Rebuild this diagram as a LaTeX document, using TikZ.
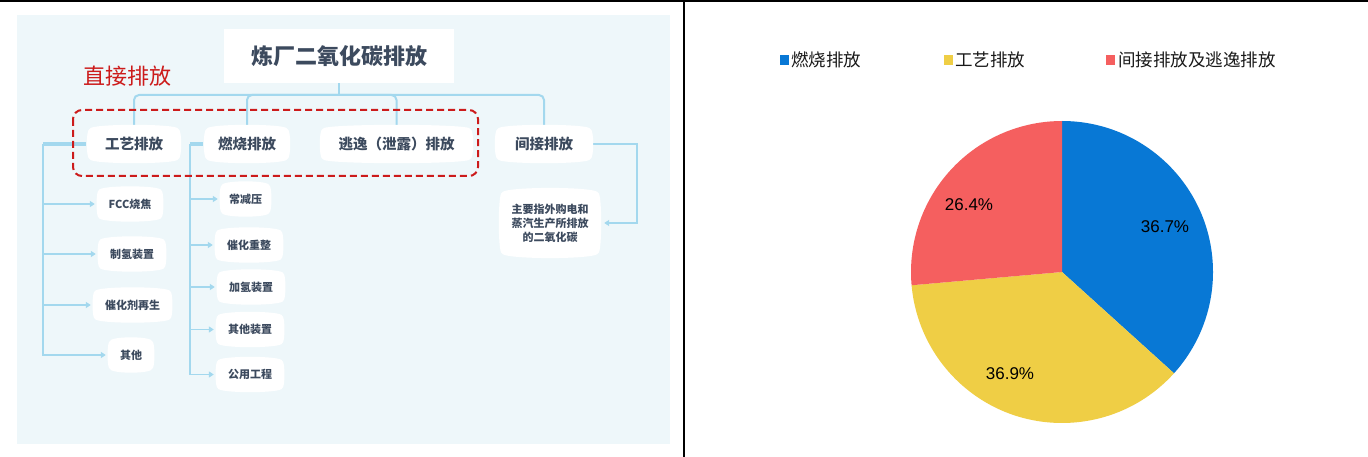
\documentclass[tikz,border=0pt]{standalone}
\usepackage{fontspec}
\setmainfont{Liberation Sans}
\newfontfamily\cjk{Noto Sans CJK SC}
\usetikzlibrary{arrows.meta}
\pgfdeclarelayer{back}\pgfdeclarelayer{lines}\pgfdeclarelayer{blobs}
\pgfsetlayers{back,lines,blobs,main}
\definecolor{bgblue}{HTML}{EEF7FA}
\definecolor{conn}{HTML}{A3D8EE}
\definecolor{ink}{HTML}{3C4A5E}
\definecolor{redbox}{HTML}{CC1B1B}
\definecolor{pieblue}{HTML}{0878D5}
\definecolor{pieyellow}{HTML}{EFCE45}
\definecolor{piered}{HTML}{F55F5F}
\newcommand\blobfill[3]{% name, vertical bulge, side bulge
  \fill[white] (#1.north west) .. controls ([yshift=#2]#1.north west) and ([yshift=#2]#1.north east) .. (#1.north east)
    .. controls ([xshift=#3]#1.north east) and ([xshift=#3]#1.south east) .. (#1.south east)
    .. controls ([yshift=-#2]#1.south east) and ([yshift=-#2]#1.south west) .. (#1.south west)
    .. controls ([xshift=-#3]#1.south west) and ([xshift=-#3]#1.north west) .. (#1.north west) -- cycle;}
\tikzset{
  topnode/.style={font=\cjk\bfseries\fontsize{14.5}{17}\selectfont, text=ink, inner sep=0pt, minimum height=30pt},
  subnode/.style={font=\cjk\bfseries\fontsize{11}{14}\selectfont, text=ink, inner sep=0pt, minimum height=27pt},
  line/.style={draw=conn, line width=2pt},
  arr/.style={draw=conn, line width=1.6pt, -{Triangle[length=5pt,width=6pt]}, shorten >=4pt},
  legend/.style={font=\cjk\fontsize{17.5}{20}\selectfont, text=black!90, inner sep=0pt, anchor=west},
  pct/.style={font=\fontsize{17}{20}\selectfont, text=black, inner sep=0pt},
  lsq/.style={inner sep=0pt, minimum width=9pt, minimum height=10pt}
}
\begin{document}
\begin{tikzpicture}[x=1pt,y=-1pt]
\useasboundingbox (0,0) rectangle (1368,457);
\begin{pgfonlayer}{back}
\fill[white] (0,0) rectangle (1368,457);
\fill[bgblue] (17,15) rectangle (670,444);
\end{pgfonlayer}
% frame lines
\draw[line width=2.5pt] (0,1.2) -- (1368,1.2);
\draw[line width=2pt] (684,0) -- (684,457);
% title
\node[fill=white, inner sep=0pt, minimum width=230pt, minimum height=54pt, font=\cjk\bfseries\fontsize{22}{26}\selectfont, text=ink] (title) at (339,56) {炼厂二氧化碳排放};
\node[font=\cjk\fontsize{22}{26}\selectfont, text=redbox, inner sep=0pt] (zj) at (127,76) {直接排放};
% top level nodes
\node[topnode, minimum width=88pt] (gy) at (134,144) {工艺排放};
\node[topnode, minimum width=80pt] (rs) at (247,144) {燃烧排放};
\node[topnode, minimum width=147pt] (ty) at (396.5,144) {逃逸（泄露）排放};
\node[topnode, minimum width=92pt] (jj) at (544,144) {间接排放};
\node[font=\cjk\bfseries\fontsize{11}{14}\selectfont, text=ink, inner sep=0pt, minimum width=96pt, minimum height=60pt, align=center] (desc) at (550,223) {主要指外购电和\\蒸汽生产所排放\\的二氧化碳};
% sub nodes
\node[subnode, minimum width=62pt] (fcc) at (130,204) {FCC烧焦};
\node[subnode, minimum width=64pt] (zq) at (132,254) {制氢装置};
\node[subnode, minimum width=75pt] (chj) at (132.5,305) {催化剂再生};
\node[subnode, minimum width=42pt] (qt) at (131,355) {其他};
\node[subnode, minimum width=47pt] (cjy) at (245.5,199) {常减压};
\node[subnode, minimum width=64pt] (chcz) at (249,245) {催化重整};
\node[subnode, minimum width=64pt] (jq) at (251,287) {加氢装置};
\node[subnode, minimum width=64pt] (qtzz) at (250,329.5) {其他装置};
\node[subnode, minimum width=64pt] (gycc) at (250,374.5) {公用工程};
% blobs
\begin{pgfonlayer}{blobs}
\foreach \n in {gy,rs,ty,jj} {\blobfill{\n}{5.3pt}{4pt}}
\foreach \n in {fcc,zq,chj,qt,cjy,chcz,jq,qtzz,gycc} {\blobfill{\n}{5.3pt}{3pt}}
\blobfill{desc}{6.5pt}{4pt}
\end{pgfonlayer}
% connectors
\coordinate (hb) at (339,95);
\coordinate (v1) at (43,144);
\coordinate (v2) at (190,144);
\coordinate (jr) at (637,144);
\begin{pgfonlayer}{lines}
\draw[line] (title.south) -- (hb);
\draw[line, rounded corners=5pt] (hb) -| (gy.north);
\draw[line, rounded corners=5pt] (hb) -| (rs.north);
\draw[line, rounded corners=5pt] (hb) -| (ty.north);
\draw[line, rounded corners=5pt] (hb) -| (jj.north);
\draw[draw=conn, line width=4pt] ([xshift=-4pt]gy.west) -- (v1);
\draw[draw=conn, line width=4pt] ([xshift=-4pt]rs.west) -- (v2);
\draw[draw=conn, line width=2.6pt] (v1) -- (v1 |- qt.west);
\draw[draw=conn, line width=2.6pt] (v2) -- (v2 |- gycc.west);
\foreach \n in {fcc,zq,chj,qt} {\draw[arr] (v1) |- (\n.west);}
\foreach \n in {cjy,chcz,jq,qtzz,gycc} {\draw[arr] (v2) |- (\n.west);}
\draw[arr, shorten >=6pt] (jj.east) -- (jr) |- (desc.east);
\end{pgfonlayer}
% red dashed box
\draw[redbox, line width=2pt, dash pattern=on 7pt off 4pt, rounded corners=9pt] (73,110) rectangle (478,176);
% pie
\coordinate (pc) at (1062,272);
\begin{scope}[shift={(pc)}, yscale=-1]
\fill[pieblue] (0,0) -- (90:151) arc[start angle=90, end angle=-42.12, radius=151] -- cycle;
\fill[pieyellow] (0,0) -- (-42.12:151) arc[start angle=-42.12, end angle=-174.96, radius=151] -- cycle;
\fill[piered] (0,0) -- (-174.96:151) arc[start angle=-174.96, end angle=-270, radius=151] -- cycle;
\end{scope}
\node[pct] (p1) at (1165,227) {36.7\%};
\node[pct] (p2) at (1010,374) {36.9\%};
\node[pct] (p3) at (969,205) {26.4\%};
% legend
\node[lsq, fill=pieblue] (l1) at (784,60) {};
\node[legend] (t1) at (791,60) {燃烧排放};
\node[lsq, fill=pieyellow] (l2) at (948,60) {};
\node[legend] (t2) at (955,60) {工艺排放};
\node[lsq, fill=piered] (l3) at (1110.5,60) {};
\node[legend] (t3) at (1118,60) {间接排放及逃逸排放};
\end{tikzpicture}
\end{document}
